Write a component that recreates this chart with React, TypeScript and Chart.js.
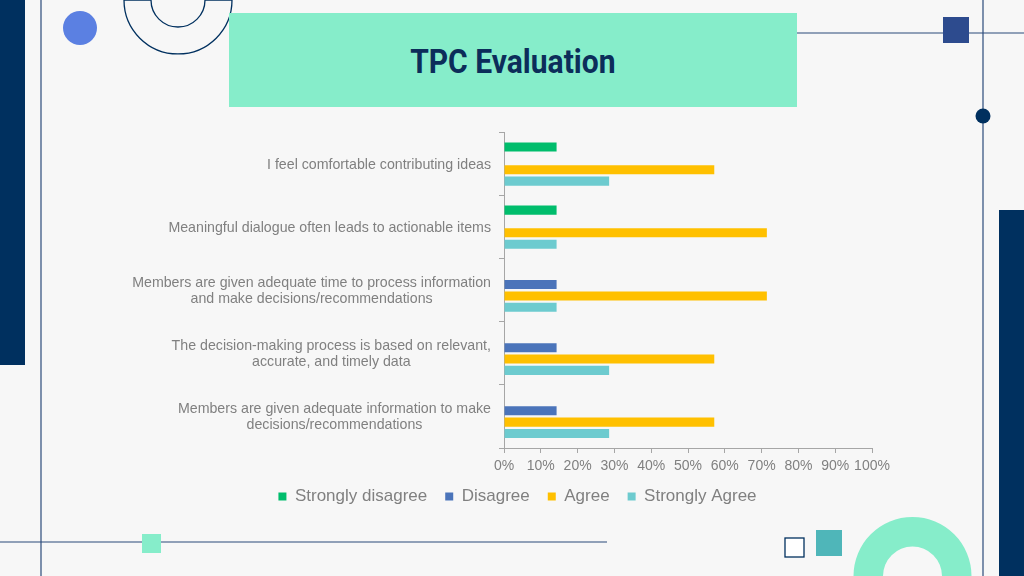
import React, { useEffect, useRef } from "react";
import { Chart, registerables } from "chart.js";

Chart.register(...registerables);

// ---------- data ----------
const categories: string[][] = [
  ["I feel comfortable contributing ideas"],
  ["Meaningful dialogue often leads to actionable items"],
  ["Members are given adequate time to process information", "and make decisions/recommendations"],
  ["The decision-making process is based on relevant,", "accurate, and timely data"],
  ["Members are given adequate information to make", "decisions/recommendations"],
];
const seriesNames = ["Strongly disagree", "Disagree", "Agree", "Strongly Agree"];
const stronglyDisagree = [14.29, 14.29, 0, 0, 0];
const disagree = [0, 0, 14.29, 14.29, 14.29];
const agree = [57.14, 71.43, 71.43, 57.14, 57.14];
const stronglyAgree = [28.57, 14.29, 14.29, 28.57, 28.57];
const seriesColors = ["#00bd6c", "#4b74ba", "#ffc000", "#6dcbcf"];
const xMin = 0;
const xMax = 100;
const xStep = 10;
const titleText = "TPC Evaluation";

const FONT = '"Liberation Sans", Arial, sans-serif';
const TEXT_GRAY = "#808080";
const AXIS_GRAY = "#a6a6a6";
const LINE = "#2a4a7a";
const NAVY = "#00305f";
const MINT = "#86edca";

const categoryLabelPlugin = {
  id: "categoryLabels",
  afterDraw(chart: any) {
    const ctx = chart.ctx;
    const yScale = chart.scales.y;
    ctx.save();
    ctx.font = `14.2px ${FONT}`;
    ctx.fillStyle = TEXT_GRAY;
    ctx.textBaseline = "middle";
    ctx.textAlign = "center";
    const right = chart.chartArea.left - 13;
    const lh = 16;
    categories.forEach((lines, i) => {
      const cy = yScale.getPixelForValue(i) + 1;
      const w = Math.max(...lines.map((l) => ctx.measureText(l).width));
      const cx = right - w / 2;
      lines.forEach((l, j) => {
        ctx.fillText(l, cx, cy + (j - (lines.length - 1) / 2) * lh);
      });
    });
    ctx.restore();
  },
};

function BarChart() {
  const ref = useRef<HTMLCanvasElement | null>(null);
  useEffect(() => {
    if (!ref.current) return;
    const series = [stronglyDisagree, disagree, agree, stronglyAgree];
    const chart = new Chart(ref.current, {
      type: "bar",
      data: {
        labels: categories.map((c) => c.join(" ")),
        datasets: seriesNames.map((name, i) => ({
          label: name,
          data: series[i],
          backgroundColor: seriesColors[i],
          borderWidth: 0,
          categoryPercentage: 0.72,
          barPercentage: 0.8,
          yAxisID: "y",
          xAxisID: "x",
        })),
      },
      plugins: [categoryLabelPlugin],
      options: {
        indexAxis: "y",
        responsive: false,
        animation: false,
        layout: { padding: { top: 132.5, left: 11, right: 0, bottom: 61 } },
        plugins: {
          legend: {
            position: "bottom",
            labels: {
              boxWidth: 8,
              boxHeight: 8,
              padding: 18,
              color: TEXT_GRAY,
              font: { size: 17, family: FONT },
            },
          },
          tooltip: { enabled: false },
        },
        scales: {
          x: {
            min: xMin,
            max: xMax,
            ticks: {
              stepSize: xStep,
              callback: (v: any) => `${v}%`,
              color: TEXT_GRAY,
              font: { size: 14, family: FONT },
              padding: 5,
              maxRotation: 0,
              autoSkip: false,
            },
            grid: { drawOnChartArea: false, drawTicks: true, tickLength: 5, color: AXIS_GRAY },
            border: { color: AXIS_GRAY },
            afterFit: (s: any) => {
              s.height = 22;
            },
          },
          y: {
            ticks: { display: false },
            grid: { drawOnChartArea: false, drawTicks: true, tickLength: 5, color: AXIS_GRAY, offset: true },
            border: { color: AXIS_GRAY },
            afterFit: (s: any) => {
              s.width = 493;
            },
          },
          y2: {
            type: "category",
            position: "right",
            labels: [""],
            ticks: { display: false },
            grid: { display: false },
            border: { display: false },
            afterFit: (s: any) => {
              s.width = 152;
            },
          },
        },
      } as any,
    });
    return () => chart.destroy();
  }, []);
  return (
    <canvas
      ref={ref}
      width={1024}
      height={576}
      style={{ position: "absolute", left: 0, top: 0, width: 1024, height: 576 }}
    />
  );
}

export default function App() {
  return (
    <div
      style={{
        position: "fixed",
        left: 0,
        top: 0,
        width: 1024,
        height: 576,
        background: "#f7f7f7",
        overflow: "hidden",
      }}
    >
      <svg width={1024} height={576} style={{ position: "absolute", left: 0, top: 0 }}>
        {/* left navy bar */}
        <rect x={0} y={0} width={25} height={365} fill={NAVY} />
        {/* right navy bar */}
        <rect x={999} y={210} width={25} height={366} fill={NAVY} />
        {/* thin lines */}
        <line x1={41} y1={0} x2={41} y2={576} stroke={LINE} strokeWidth={1.2} />
        <line x1={983} y1={0} x2={983} y2={576} stroke={LINE} strokeWidth={1.2} />
        <line x1={700} y1={33} x2={1024} y2={33} stroke={LINE} strokeWidth={1.2} />
        <line x1={0} y1={542} x2={607} y2={542} stroke={LINE} strokeWidth={1.2} />
        {/* blue circle */}
        <circle cx={80} cy={28} r={17} fill="#5b80e2" />
        {/* top half-donut outline */}
        <path
          d="M124 0 A54 54 0 0 0 232 0 L205 0 A27 27 0 0 1 151 0 Z"
          fill="none"
          stroke={NAVY}
          strokeWidth={1.3}
        />
        {/* top-right square */}
        <rect x={943} y={17} width={26} height={26} fill="#2d4b8e" />
        {/* dot on line */}
        <circle cx={983} cy={116} r={7.5} fill={NAVY} />
        {/* bottom mint square */}
        <rect x={142} y={534} width={19} height={19} fill={MINT} />
        {/* outline square */}
        <rect x={785} y={538} width={19} height={19} fill="#ffffff" stroke={NAVY} strokeWidth={1.3} />
        {/* teal square */}
        <rect x={816} y={530} width={26} height={26} fill="#4fb6b9" />
        {/* mint arch */}
        <path
          d="M853.5 576 A59 59 0 0 1 971.5 576 L942 576 A29.5 29.5 0 0 0 883 576 Z"
          fill={MINT}
        />
      </svg>
      <div
        style={{
          position: "absolute",
          left: 229,
          top: 13,
          width: 568,
          height: 94,
          background: MINT,
          display: "flex",
          alignItems: "center",
          justifyContent: "center",
        }}
      >
        <span
          style={{
            fontFamily: "Roboto, sans-serif",
            fontWeight: 700,
            fontSize: 33,
            color: "#0c2d5a",
            display: "inline-block",
            transform: "scaleX(0.91)",
            paddingTop: 3,
            whiteSpace: "nowrap",
          }}
        >
          {titleText}
        </span>
      </div>
      <BarChart />
    </div>
  );
}
